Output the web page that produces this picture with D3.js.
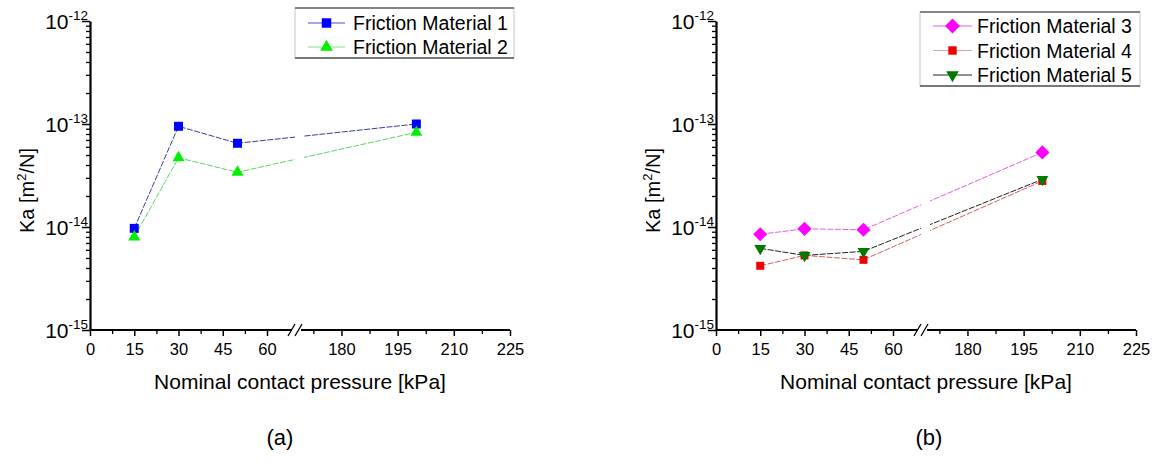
<!DOCTYPE html>
<html>
<head>
<meta charset="utf-8">
<script src="https://cdn.jsdelivr.net/npm/d3@7"></script>
<style>
  body { margin: 0; background: #fff; }
  svg text { font-family: "Liberation Sans", Arial, sans-serif; fill: #000; }
</style>
</head>
<body>
<svg id="chart" width="1157" height="465"></svg>
<script>
/* ── DATI ─────────────────────────────────────── */

const pressures   = [15, 30, 50, 200];
const material1   = [9.7e-15, 9.5e-14, 6.5e-14, 1.0e-13];
const material2   = [8.0e-15, 4.7e-14, 3.4e-14, 8.3e-14];
const material3   = [8.5e-15, 9.6e-15, 9.4e-15, 5.3e-14];
const material4   = [4.2e-15, 5.3e-15, 4.8e-15, 2.8e-14];
const material5   = [6.2e-15, 5.3e-15, 5.8e-15, 2.9e-14];

const xTicksLow   = [0, 15, 30, 45, 60];
const xTicksHigh  = [180, 195, 210, 225];
const yDecades    = [-15, -14, -13, -12];

const seriesA = [
  { name: "Friction Material 1", values: material1, symbol: "square",  color: "#0000ff", line: "#3b3b9c", legLine: "#4a4ad0", size: 9 },
  { name: "Friction Material 2", values: material2, symbol: "triUp",   color: "#00f000", line: "#5fd35f", legLine: "#7fe07f", size: 12 }
];
const seriesB = [
  { name: "Friction Material 3", values: material3, symbol: "diamond", color: "#ff00ff", line: "#e060e0", legLine: "#e060e0", size: 10 },
  { name: "Friction Material 4", values: material4, symbol: "square",  color: "#ee0000", line: "#d06060", legLine: "#e8a0a0", size: 8 },
  { name: "Friction Material 5", values: material5, symbol: "triDown", color: "#007a00", line: "#222222", legLine: "#222222", size: 12 }
];

/* ── LAYOUT ───────────────────────────────────── */

const svg = d3.select("#chart");
const W = 420, H = 309;
const BREAK0 = 205, BREAK1 = 214;

function simbolo(sel, tipo, size, color) {
  let gen, rot = 0;
  if (tipo === "square")  gen = d3.symbol(d3.symbolSquare, size * size);
  if (tipo === "diamond") { gen = d3.symbol(d3.symbolSquare, size * size); rot = 45; }
  if (tipo === "triUp")   gen = d3.symbol(d3.symbolTriangle, size * size * Math.sqrt(3) / 4);
  if (tipo === "triDown") { gen = d3.symbol(d3.symbolTriangle, size * size * Math.sqrt(3) / 4); rot = 180; }
  sel.append("path")
    .attr("d", gen())
    .attr("transform", `rotate(${rot})`)
    .attr("fill", color);
}

function disegnaPannello(ox, oy, series, id, legendBox, caption) {
  const g = svg.append("g").attr("transform", `translate(${ox},${oy})`);

  const xLow  = d3.scaleLinear().domain([0, 70]).range([0, 206.5]);
  const xHigh = d3.scaleLinear().domain([170, 225]).range([BREAK1, W]);
  const x = v => v <= 70 ? xLow(v) : xHigh(v);
  const y = d3.scaleLog().domain([1e-15, 1e-12]).range([H, 0]);

  // clip con interruzione dell'asse
  const clip = svg.append("defs").append("clipPath").attr("id", "clip-" + id);
  clip.append("rect").attr("x", -20).attr("y", -20).attr("width", BREAK0 + 20).attr("height", H + 40);
  clip.append("rect").attr("x", BREAK1).attr("y", -20).attr("width", W - BREAK1 + 20).attr("height", H + 40);

  /* asse Y */
  const majors = yDecades.map(e => Math.pow(10, e));
  const minors = [];
  yDecades.slice(0, -1).forEach(e => {
    for (let m = 2; m <= 9; m++) minors.push(m * Math.pow(10, e));
  });

  g.append("g")
    .call(d3.axisLeft(y).tickValues(minors).tickSize(4).tickFormat(""))
    .call(a => a.select(".domain").remove())
    .selectAll("line").attr("stroke", "#000").attr("stroke-width", 1.3);

  const yAx = g.append("g")
    .call(d3.axisLeft(y).tickValues(majors).tickSize(8).tickSizeOuter(0).tickFormat(""));
  yAx.select(".domain").attr("stroke-width", 2.2);
  yAx.selectAll("line").attr("stroke-width", 1.5);

  const ylab = g.append("g").selectAll("text").data(yDecades).join("text")
    .attr("x", -2).attr("y", e => y(Math.pow(10, e)) + 8)
    .attr("text-anchor", "end")
    .style("font-size", "21px");
  ylab.append("tspan").text("10");
  ylab.append("tspan").attr("dy", -9).style("font-size", "13.5px").text(e => String(e));

  /* asse X, due segmenti */
  const minLow  = d3.range(7.5, 60, 15);
  const minHigh = d3.range(172.5, 225, 15);

  const xa1 = g.append("g").attr("transform", `translate(0,${H})`)
    .call(d3.axisBottom(xLow).tickValues(xTicksLow).tickSize(6).tickSizeOuter(0).tickPadding(7));
  xa1.select(".domain").attr("d", `M0,0H${BREAK0 - 3}`).attr("stroke-width", 2.2);
  const xa2 = g.append("g").attr("transform", `translate(0,${H})`)
    .call(d3.axisBottom(xHigh).tickValues(xTicksHigh).tickSize(6).tickSizeOuter(0).tickPadding(7));
  xa2.select(".domain").attr("d", `M${BREAK1 - 3},0H${W}`).attr("stroke-width", 2.2);
  [xa1, xa2].forEach(a => {
    a.selectAll("line").attr("stroke-width", 1.5);
    a.selectAll("text").style("font-size", "16.5px").attr("font-family", "Liberation Sans, Arial, sans-serif");
  });
  g.append("g").attr("transform", `translate(0,${H})`)
    .call(d3.axisBottom(xLow).tickValues(minLow).tickSize(4).tickFormat(""))
    .call(a => a.select(".domain").remove())
    .selectAll("line").attr("stroke-width", 1.3);
  g.append("g").attr("transform", `translate(0,${H})`)
    .call(d3.axisBottom(xHigh).tickValues(minHigh).tickSize(4).tickFormat(""))
    .call(a => a.select(".domain").remove())
    .selectAll("line").attr("stroke-width", 1.3);

  // simbolo di interruzione "//"
  [BREAK0 - 4, BREAK0 + 3].forEach(bx => {
    g.append("line")
      .attr("x1", bx - 3).attr("y1", H + 6)
      .attr("x2", bx + 4).attr("y2", H - 6)
      .attr("stroke", "#000").attr("stroke-width", 1.3);
  });

  /* titoli assi */
  g.append("text")
    .attr("x", 210).attr("y", H + 59)
    .attr("text-anchor", "middle")
    .style("font-size", "21px")
    .text("Nominal contact pressure [kPa]");

  const yt = g.append("text")
    .attr("transform", `translate(${-56},${H / 2 + 15}) rotate(-90)`)
    .attr("text-anchor", "middle")
    .style("font-size", "20px");
  yt.append("tspan").text("Ka [m");
  yt.append("tspan").attr("dy", -8).style("font-size", "13px").text("2");
  yt.append("tspan").attr("dy", 8).text("/N]");

  /* serie */
  const linea = d3.line().x((d, i) => x(pressures[i])).y(d => y(d));
  const gData = g.append("g");
  series.forEach(s => {
    gData.append("path")
      .datum(s.values)
      .attr("clip-path", `url(#clip-${id})`)
      .attr("fill", "none")
      .attr("stroke", s.line)
      .attr("stroke-width", 1)
      .attr("stroke-dasharray", "6,1.5")
      .attr("d", linea);
  });
  series.forEach(s => {
    s.values.forEach((v, i) => {
      const m = gData.append("g").attr("transform", `translate(${x(pressures[i])},${y(v)})`);
      simbolo(m, s.symbol, s.size, s.color);
    });
  });

  /* legenda */
  const lg = svg.append("g").attr("transform", `translate(${legendBox.x},${legendBox.y})`);
  lg.append("rect")
    .attr("width", legendBox.w).attr("height", legendBox.h)
    .attr("fill", "#fff").attr("stroke", "#c8c8c8").attr("stroke-width", 1);
  lg.append("line").attr("x1", 0).attr("x2", legendBox.w).attr("y1", 0).attr("y2", 0)
    .attr("stroke", "#666").attr("stroke-width", 1.3);
  lg.append("line").attr("x1", 0).attr("x2", legendBox.w).attr("y1", legendBox.h).attr("y2", legendBox.h)
    .attr("stroke", "#555").attr("stroke-width", 1.5);
  series.forEach((s, i) => {
    const ry = legendBox.row0 + i * legendBox.step;
    lg.append("line")
      .attr("x1", legendBox.l0).attr("x2", legendBox.l1)
      .attr("y1", ry).attr("y2", ry)
      .attr("stroke", s.legLine).attr("stroke-width", 1);
    const m = lg.append("g").attr("transform", `translate(${(legendBox.l0 + legendBox.l1) / 2},${ry})`);
    simbolo(m, s.symbol, s.size * 1.05, s.color);
    lg.append("text")
      .attr("x", legendBox.tx).attr("y", ry + 7)
      .style("font-size", "19.5px")
      .text(s.name);
  });

  svg.append("text")
    .attr("x", ox + caption.dx).attr("y", 445)
    .attr("text-anchor", "middle")
    .style("font-size", "22px")
    .attr("font-family", "Open Sans, sans-serif")
    .text(caption.label);
}

disegnaPannello(90, 21, seriesA, "a",
  { x: 295, y: 8, w: 219, h: 50, row0: 15, step: 24, l0: 13, l1: 50, tx: 58 },
  { label: "(a)", dx: 190 });

disegnaPannello(716, 21, seriesB, "b",
  { x: 920, y: 12, w: 220, h: 74, row0: 14, step: 24.5, l0: 13, l1: 52, tx: 57 },
  { label: "(b)", dx: 213 });
</script>
</body>
</html>
